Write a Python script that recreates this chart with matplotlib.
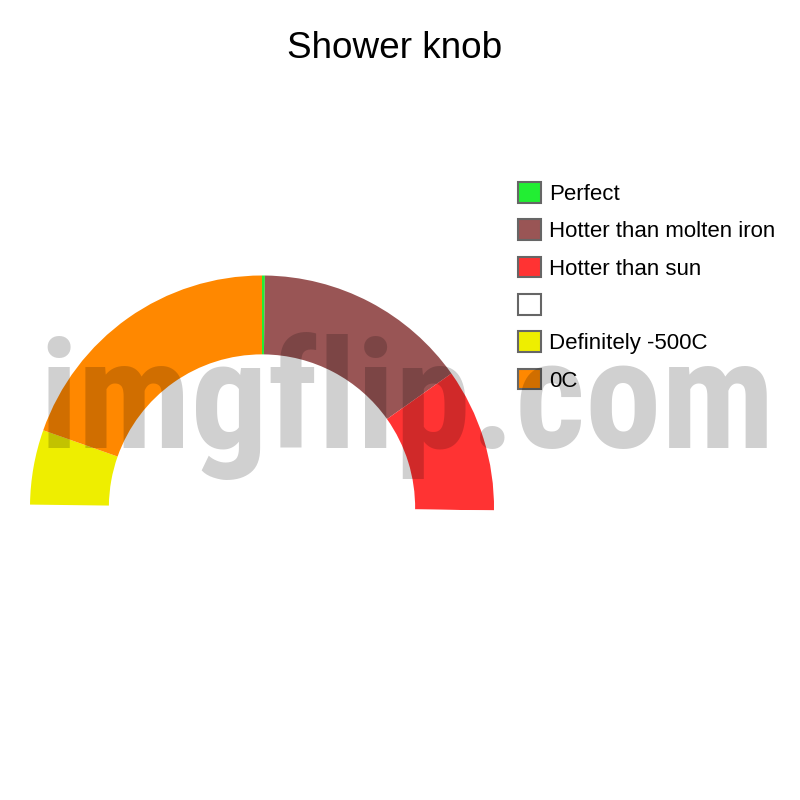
import matplotlib
matplotlib.use('Agg')
import matplotlib.pyplot as plt

# slices, clockwise from the top
labels = ['Perfect', 'Hotter than molten iron', 'Hotter than sun', '', 'Definitely -500C', '0C']
values = [0.2, 15, 10, 50, 5.2, 19.6]
colors = ['#22ee33', '#995555', '#ff3333', '#ffffff', '#eeee00', '#ff8800']

plt.rcParams['font.family'] = ['Liberation Sans', 'DejaVu Sans']

fig = plt.figure(figsize=(8, 8), dpi=100)
W = H = 800.0

# pie centre (262, 507.5) px, outer radius 232 px
cx, cy, r = 262, 507.5, 232
ax = fig.add_axes([(cx - r) / W, (H - cy - r) / H, 2 * r / W, 2 * r / H])
wedges, _ = ax.pie(values, colors=colors, startangle=90, counterclock=False,
                   radius=1, wedgeprops=dict(width=0.34, linewidth=0))
ax.set_xlim(-1, 1)
ax.set_ylim(-1, 1)
ax.set_aspect('equal')
ax.axis('off')

leg = fig.legend(wedges, labels, loc='upper left',
                 bbox_to_anchor=(518 / W, 1 - 182 / H), bbox_transform=fig.transFigure,
                 frameon=False, fontsize=16, handlelength=1.05, handleheight=1.05,
                 handletextpad=0.35, labelspacing=0.65, borderpad=0, borderaxespad=0)
for p in leg.get_patches():
    p.set_edgecolor('#666666')
    p.set_linewidth(1.5)

fig.text(394.5 / W, 1 - 58.5 / H, 'Shower knob', ha='center', va='baseline', fontsize=26.6)

# watermark, on top of everything
fig.text(39 / W, 1 - 448 / H, 'imgflip.com', ha='left', va='baseline',
         fontsize=110, fontweight='bold', color='black', alpha=0.185, zorder=10,
         family=['Roboto Condensed', 'Liberation Sans'])

fig.savefig('out.png', dpi=100, facecolor='white')
